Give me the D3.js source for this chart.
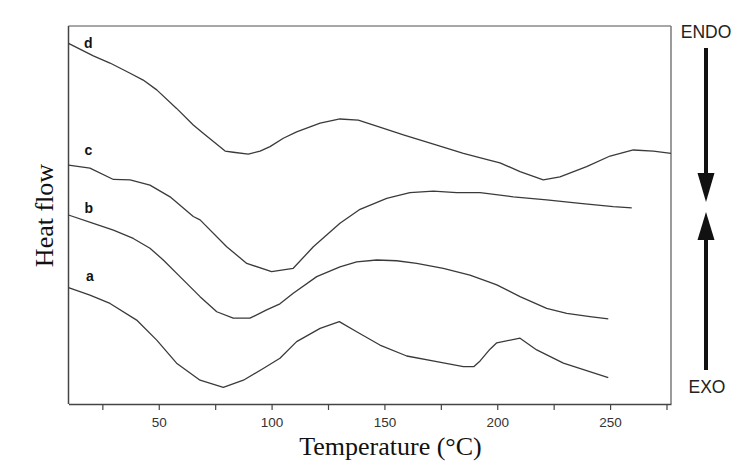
<!DOCTYPE html>
<html>
<head>
<meta charset="utf-8">
<script src="https://cdn.jsdelivr.net/npm/d3@7"></script>
<style>
  html, body { margin: 0; padding: 0; background: #fff; }
  svg { display: block; }
</style>
</head>
<body>
<svg id="chart" width="752" height="471"></svg>
<script>
// ---- data (temperature °C, heat flow arbitrary units) ----
const curveNames = ["a", "b", "c", "d"];

const seriesA = [[10,30.8],[19.5,28.8],[28.4,26.6],[40.2,22.2],[49.1,16.9],[57.9,10.8],[68.3,6.3],[78.6,4.4],[87.5,6.3],[96.3,9.4],[103.7,12.1],[111.1,16.5],[121.5,20.0],[130,21.8],[137.7,19.1],[148,15.6],[159.9,12.7],[173.2,11.2],[185,9.9],[189.7,9.9],[192.4,11.4],[196.8,14.5],[199.8,16.2],[210.1,17.4],[217.5,14.3],[229.3,10.8],[239.6,8.8],[249.2,7.0]];

const seriesB = [[10,50.0],[21,47.8],[29.9,46.0],[38.7,43.8],[46.1,41.2],[52,38.1],[59.4,33.7],[68.3,28.4],[75.7,24.4],[83,22.7],[90.4,22.7],[97.8,24.9],[103.7,26.5],[109.6,29.3],[120,33.7],[130.3,36.3],[137.7,37.6],[146.6,38.1],[155.4,37.9],[164.3,37.2],[176.1,35.9],[187.9,34.1],[196.8,32.2],[199.8,31.5],[210.1,28.4],[221.9,25.3],[230.8,24.0],[241.1,23.1],[249.2,22.5]];

const seriesC = [[10,63.2],[19.5,62.4],[29.9,59.4],[37.3,59.3],[46.1,57.9],[55,54.8],[65.3,49.6],[68.3,48.7],[80.1,41.6],[89,37.2],[100,35.0],[109.6,35.9],[118.5,41.6],[130.3,47.8],[139.2,51.5],[151,54.4],[161.3,55.9],[171.7,56.3],[182,55.9],[192.4,55.9],[207.1,54.8],[221.9,54.0],[236.7,53.1],[251.4,52.2],[259.6,51.9]];

const seriesD = [[10,95.4],[21,92.1],[28.4,90.2],[37.3,87.5],[43.1,85.7],[49.1,83.1],[57.9,78.2],[65.3,73.8],[69.7,71.6],[79.4,66.9],[83,66.6],[89.7,66.1],[94.9,66.9],[99.3,68.1],[105.2,70.3],[111.1,72.0],[121.5,74.3],[130.3,75.4],[138.4,75.1],[146.6,73.5],[158.4,71.2],[173.2,68.5],[185,66.3],[196,64.6],[201.2,63.8],[210.1,61.5],[220.4,59.3],[227.8,60.1],[239.6,62.8],[250,65.6],[260.3,67.2],[269.2,66.9],[277,66.3]];

// label positions in data units (temperature, heat flow)
const labelPos = [[19.5,32.5],[19.0,50.5],[18.8,65.8],[18.8,94.2]];

const xDomain = [10, 277];
const yDomain = [0, 100];
const xTickValues = [25, 50, 75, 100, 125, 150, 175, 200, 225, 250, 275];
const xLabeledTicks = [50, 100, 150, 200, 250];

const xTitle = "Temperature (°C)";
const yTitle = "Heat flow";
const endoText = "ENDO";
const exoText = "EXO";

// ---- drawing ----
const svg = d3.select("#chart");
const L = 68.5, R = 671, T = 26, B = 404;

const x = d3.scaleLinear().domain(xDomain).range([L, R]);
const y = d3.scaleLinear().domain(yDomain).range([B, T]);

// frame
svg.append("line").attr("x1", L).attr("x2", R).attr("y1", T).attr("y2", T)
  .attr("stroke", "#8a8a8a").attr("stroke-width", 1.5);
svg.append("line").attr("x1", R).attr("x2", R).attr("y1", T).attr("y2", B)
  .attr("stroke", "#7a7a7a").attr("stroke-width", 1.5);
svg.append("line").attr("x1", L).attr("x2", L).attr("y1", T).attr("y2", B)
  .attr("stroke", "#444").attr("stroke-width", 1.5);

// x axis
const xAxis = d3.axisBottom(x)
  .tickValues(xTickValues)
  .tickSize(6)
  .tickSizeOuter(0)
  .tickFormat(d => xLabeledTicks.includes(d) ? d3.format("d")(d) : "");
const gx = svg.append("g").attr("transform", `translate(0,${B})`).call(xAxis);
gx.select(".domain").attr("stroke", "#444").attr("stroke-width", 1.5);
gx.selectAll(".tick line").attr("stroke", "#444").attr("stroke-width", 1.2);
gx.selectAll(".tick text")
  .attr("font-family", "Liberation Sans, Arial, sans-serif")
  .attr("font-size", "13.5px")
  .attr("fill", "#333")
  .attr("dy", "1.05em");

// curves
const line = d3.line().x(d => x(d[0])).y(d => y(d[1])).curve(d3.curveLinear);
const allSeries = [seriesA, seriesB, seriesC, seriesD];
svg.append("g").selectAll("path").data(allSeries).join("path")
  .attr("d", line)
  .attr("fill", "none")
  .attr("stroke", "#3a3a3a")
  .attr("stroke-width", 1.3)
  .attr("stroke-linejoin", "round");

// curve labels
svg.append("g").selectAll("text").data(curveNames).join("text")
  .attr("x", (d, i) => x(labelPos[i][0]))
  .attr("y", (d, i) => y(labelPos[i][1]))
  .attr("text-anchor", "middle")
  .attr("font-family", "Liberation Sans, Arial, sans-serif")
  .attr("font-weight", "bold")
  .attr("font-size", "14px")
  .attr("fill", "#111")
  .text(d => d);

// axis titles
svg.append("text")
  .attr("x", 390.5).attr("y", 455)
  .attr("text-anchor", "middle")
  .attr("font-family", "Liberation Serif, Times New Roman, serif")
  .attr("font-size", "26px")
  .attr("fill", "#111")
  .text(xTitle);

svg.append("text")
  .attr("transform", "translate(53,215.5) rotate(-90)")
  .attr("text-anchor", "middle")
  .attr("font-family", "Liberation Serif, Times New Roman, serif")
  .attr("font-size", "26px")
  .attr("fill", "#111")
  .text(yTitle);

// ENDO / EXO indicators
const ax = 706;
svg.append("text").attr("x", ax).attr("y", 38)
  .attr("text-anchor", "middle")
  .attr("font-family", "Liberation Sans, Arial, sans-serif")
  .attr("font-size", "17.5px").attr("fill", "#222")
  .text(endoText);
svg.append("text").attr("x", ax + 1).attr("y", 393)
  .attr("text-anchor", "middle")
  .attr("font-family", "Liberation Sans, Arial, sans-serif")
  .attr("font-size", "17.5px").attr("fill", "#222")
  .text(exoText);

// down arrow
svg.append("line").attr("x1", ax).attr("x2", ax).attr("y1", 48).attr("y2", 180)
  .attr("stroke", "#111").attr("stroke-width", 4);
svg.append("path")
  .attr("d", `M${ax - 8.5},173 L${ax + 8.5},173 L${ax},202 Z`)
  .attr("fill", "#111");
// up arrow
svg.append("line").attr("x1", ax).attr("x2", ax).attr("y1", 234).attr("y2", 370)
  .attr("stroke", "#111").attr("stroke-width", 4);
svg.append("path")
  .attr("d", `M${ax - 8.5},240 L${ax + 8.5},240 L${ax},212 Z`)
  .attr("fill", "#111");
</script>
</body>
</html>
